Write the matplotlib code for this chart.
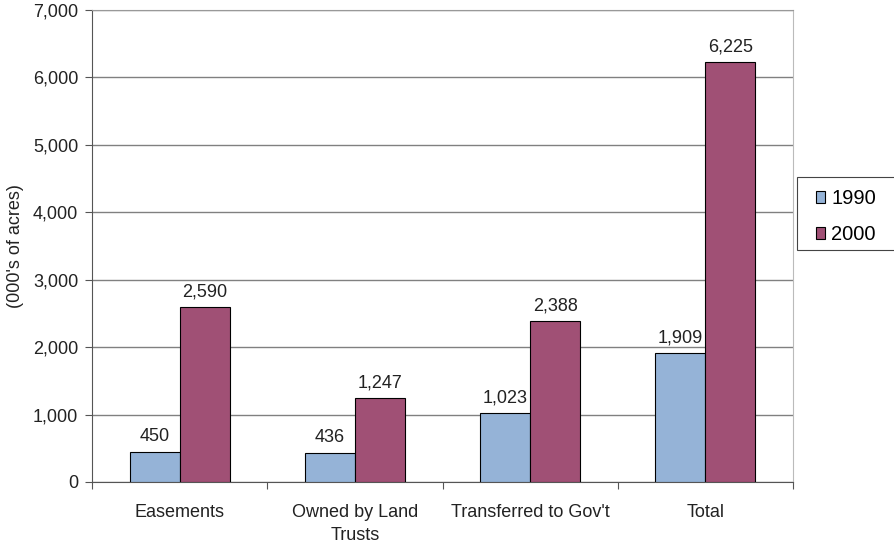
import matplotlib.pyplot as plt
import numpy as np
from matplotlib.patches import Rectangle
from matplotlib.ticker import FuncFormatter, MultipleLocator

plt.rcParams["font.family"] = ["Liberation Sans", "DejaVu Sans"]

categories = ["Easements", "Owned by Land\nTrusts", "Transferred to Gov't", "Total"]
acres_1990 = [450, 436, 1023, 1909]
acres_2000 = [2590, 1247, 2388, 6225]
series_names = ["1990", "2000"]
colors = ["#95b3d7", "#a05075"]

FS = 13
TXT = "#222222"

fig = plt.figure(figsize=(8.94, 5.44), dpi=100)
ax = fig.add_axes([92 / 894, 62 / 544, 701 / 894, 472 / 544])

x = np.arange(len(categories))
w = 0.285
for off, vals, name, c in [(-w / 2, acres_1990, series_names[0], colors[0]),
                           (w / 2, acres_2000, series_names[1], colors[1])]:
    bars = ax.bar(x + off, vals, width=w, color=c, edgecolor="black",
                  linewidth=0.8, label=name, zorder=3)
    for b, v in zip(bars, vals):
        ax.text(b.get_x() + b.get_width() / 2, v + 100, f"{v:,}",
                ha="center", va="bottom", fontsize=FS, color=TXT)

ax.set_xlim(-0.5, len(categories) - 0.5)
ax.set_ylim(0, 7000)
ax.yaxis.set_major_locator(MultipleLocator(1000))
ax.yaxis.set_major_formatter(FuncFormatter(lambda v, _: f"{int(v):,}"))
ax.set_xticks(np.arange(-0.5, len(categories)), labels=[])
ax.set_xticks(x, labels=categories, minor=True)
ax.tick_params(axis="x", which="minor", length=0, pad=16, labelsize=FS)
ax.tick_params(axis="x", which="major", length=5, direction="out", color="#555555")
ax.tick_params(axis="y", length=5, direction="out", color="#555555", labelsize=FS,
               labelcolor=TXT, pad=5)
for lbl in ax.get_xticklabels(minor=True):
    lbl.set_color(TXT)
    lbl.set_linespacing(1.45)

ax.yaxis.grid(True, color="#808080", linewidth=1, zorder=0)
ax.set_axisbelow(True)
ax.spines["left"].set_color("#555555")
ax.spines["bottom"].set_color("#555555")
ax.spines["top"].set_color("#999999")
ax.spines["right"].set_color("#bbbbbb")
ax.set_ylabel("(000's of acres)", fontsize=FS, color=TXT, labelpad=6)

# legend box runs off the right edge of the canvas
fig.add_artist(Rectangle((797 / 894, 1 - 250 / 544), 110 / 894, 73 / 544,
                         transform=fig.transFigure, facecolor="white",
                         edgecolor="#444444", linewidth=0.8))
leg = fig.legend(loc="upper left", bbox_to_anchor=(812 / 894, 1 - 185 / 544),
                 fontsize=14.5, frameon=False, handlelength=0.45,
                 handleheight=0.55, handletextpad=0.3, borderpad=0.2,
                 labelspacing=0.85, borderaxespad=0)
for h in leg.legend_handles:
    h.set_linewidth(0.8)

fig.savefig("out.png", dpi=100)
